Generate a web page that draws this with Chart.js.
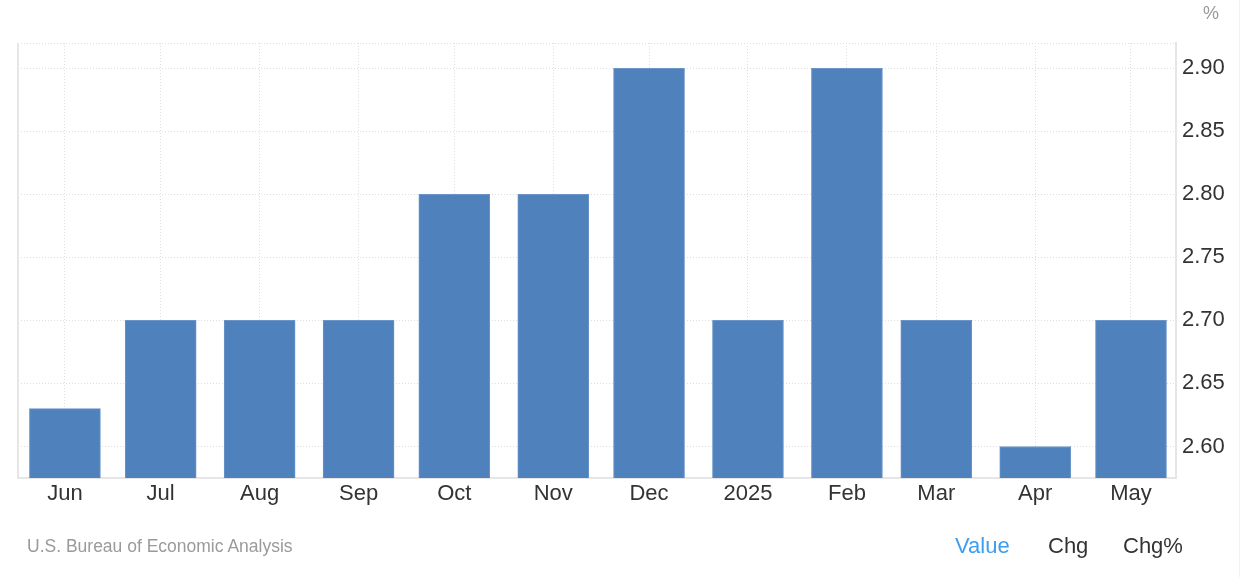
<!DOCTYPE html>
<html>
<head>
<meta charset="utf-8">
<script src="https://cdn.jsdelivr.net/npm/chart.js@4.4.1/dist/chart.umd.min.js"></script>
<style>
  body { margin: 0; background: #fff; font-family: "Liberation Sans", Arial, sans-serif; }
  #wrap { position: relative; width: 1246px; height: 577px; overflow: hidden; }
  #wrap canvas { position: absolute; left: 0; top: 0; }
  .unit { position: absolute; left: 1203px; top: 3px; font-size: 18px; color: #999; }
  .source { position: absolute; left: 27px; top: 536px; font-size: 17.5px; color: #9a9a9a; }
  .tab { position: absolute; top: 533px; font-size: 22px; color: #333; }
  .edge { position: absolute; left: 1239px; top: 0; width: 1px; height: 577px; background: #f2f2f2; }
</style>
</head>
<body>
<div id="wrap">
  <canvas id="chart" width="1246" height="577"></canvas>
  <div class="unit">%</div>
  <div class="source">U.S. Bureau of Economic Analysis</div>
  <div class="tab" style="left:955px;color:#3d9df2">Value</div>
  <div class="tab" style="left:1048px">Chg</div>
  <div class="tab" style="left:1123px">Chg%</div>
  <div class="edge"></div>
</div>
<script>
// monthly values, one bar per month
const labels = ["Jun", "Jul", "Aug", "Sep", "Oct", "Nov", "Dec", "2025", "Feb", "Mar", "Apr", "May"];
const dates = ["2024-06-01", "2024-07-01", "2024-08-01", "2024-09-01", "2024-10-01", "2024-11-01",
               "2024-12-01", "2025-01-01", "2025-02-01", "2025-03-01", "2025-04-01", "2025-05-01"];
const values = [2.63, 2.7, 2.7, 2.7, 2.8, 2.8, 2.9, 2.7, 2.9, 2.7, 2.6, 2.7];
const yTicks = [2.60, 2.65, 2.70, 2.75, 2.80, 2.85, 2.90];
const yMin = 2.575;
const yMax = 2.92;

// bars sit on a time line, so spacing follows month length
const dayNum = dates.map(d => (Date.parse(d) - Date.parse(dates[0])) / 864e5);

const lineColor = "#e6e6e6";
const gridColor = "#dedede";
const textColor = "#333";
const font = { family: "'Liberation Sans', Arial, sans-serif", size: 22 };

const leftEdge = {
  id: "leftEdge",
  beforeDatasetsDraw(chart) {
    const { ctx, chartArea } = chart;
    ctx.save();
    ctx.strokeStyle = lineColor;
    ctx.lineWidth = 2;
    ctx.beginPath();
    ctx.moveTo(chartArea.left, chartArea.top);
    ctx.lineTo(chartArea.left, chartArea.bottom);
    ctx.stroke();
    ctx.restore();
  }
};

new Chart(document.getElementById("chart"), {
  type: "bar",
  data: {
    datasets: [{
      data: dayNum.map((x, i) => ({ x: x, y: values[i] })),
      backgroundColor: "#4f81bd",
      borderColor: "#6b95c8",
      borderWidth: 1,
      barThickness: 71
    }]
  },
  plugins: [leftEdge],
  options: {
    responsive: false,
    animation: false,
    layout: { padding: { left: 18, top: 43, right: 0, bottom: 0 } },
    plugins: { legend: { display: false }, tooltip: { enabled: false } },
    scales: {
      x: {
        type: "linear",
        offset: false,
        min: -14.7,
        max: dayNum[dayNum.length - 1] + 14.1,
        afterBuildTicks: scale => { scale.ticks = dayNum.map(v => ({ value: v })); },
        afterFit: scale => { scale.height = 99; },
        grid: { color: gridColor, drawTicks: false, lineWidth: 1, offset: false },
        border: { display: true, color: lineColor, width: 2, dash: [1, 2] },
        ticks: {
          autoSkip: false, maxRotation: 0, padding: 3,
          color: textColor, font: font,
          callback: (v, i) => labels[i]
        }
      },
      y: {
        position: "right",
        min: yMin,
        max: yMax,
        afterBuildTicks: scale => { scale.ticks = yTicks.concat([yMax]).map(v => ({ value: v })); },
        afterFit: scale => { scale.width = 70; },
        grid: { color: gridColor, drawTicks: false, lineWidth: 1 },
        border: { display: true, color: lineColor, width: 2, dash: [1, 2] },
        ticks: {
          padding: 6, color: textColor, font: font,
          callback: v => yTicks.includes(v) ? v.toFixed(2) : ""
        }
      }
    }
  }
});
</script>
</body>
</html>
